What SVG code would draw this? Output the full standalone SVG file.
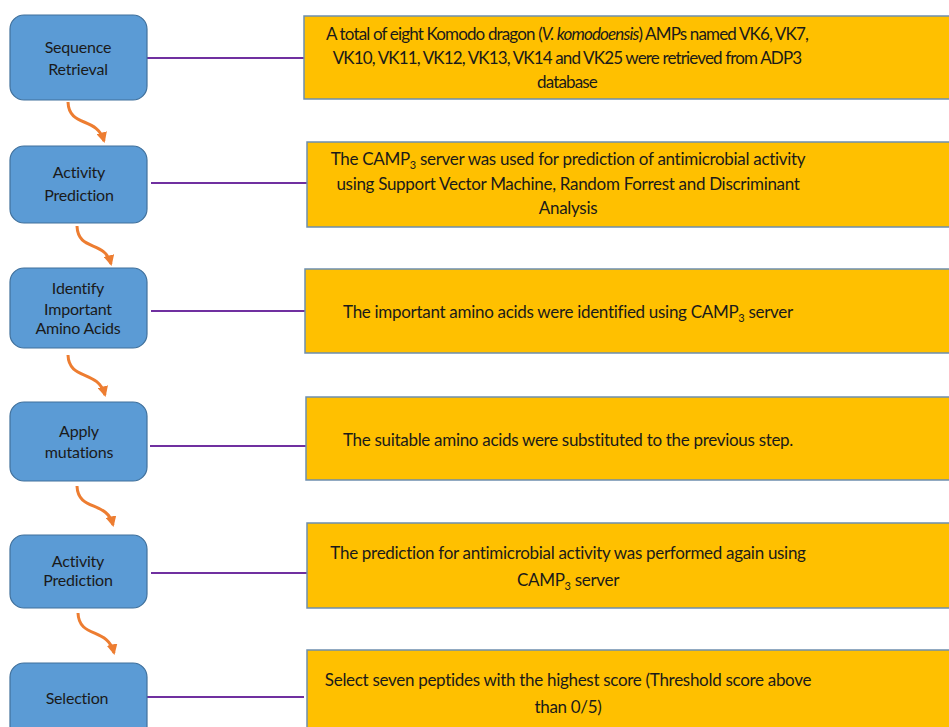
<svg xmlns="http://www.w3.org/2000/svg" width="949" height="727" viewBox="0 0 949 727">
<style>
.node rect{fill:#5B9BD5;stroke:#41719C;stroke-width:1.2}
.box rect{fill:#FFC000;stroke:#6D8EAE;stroke-width:1.5}
.nt{font-family:Lato,"Open Sans",sans-serif;font-size:16px;letter-spacing:-0.2px;fill:#1a1a1a;text-anchor:middle}
.bt{font-family:Lato,"Open Sans",sans-serif;font-size:17px;letter-spacing:-0.3px;fill:#1a1a1a;text-anchor:middle}
.tight{letter-spacing:-0.85px}
.link{stroke:#7030A0;stroke-width:2;fill:none}
.flow{stroke:#ED7D31;stroke-width:3;fill:none;marker-end:url(#ah)}
.sub{font-size:11px}
</style>
<defs>
<marker id="ah" viewBox="0 0 10 10" refX="8" refY="5" markerWidth="3.6" markerHeight="3.6" orient="auto" markerUnits="strokeWidth">
<path d="M0,0 L10,5 L0,10 Z" fill="#ED7D31"/>
</marker>
</defs>
<rect width="949" height="727" fill="#fff"/>
<g id="connectors">
<line class="link" x1="147" y1="58" x2="304" y2="58"/>
<line class="link" x1="151" y1="183" x2="307" y2="183"/>
<line class="link" x1="151" y1="311" x2="306" y2="311"/>
<line class="link" x1="150" y1="446" x2="306" y2="446"/>
<line class="link" x1="151" y1="573" x2="307" y2="573"/>
<line class="link" x1="147" y1="697" x2="304" y2="697"/>
<path class="flow" d="M68,102 C69,128 97,116 104,141"/>
<path class="flow" d="M77,226 C78,252 105,240 111,264"/>
<path class="flow" d="M68,355 C69,381 98,369 105,395"/>
<path class="flow" d="M77,486 C78,512 107,500 113,525"/>
<path class="flow" d="M78,613 C79,639 108,627 114,653"/>
</g>
<g id="n1" class="node"><rect x="10" y="15" width="137" height="85" rx="14"/>
<text class="nt" x="78" y="53">Sequence</text><text class="nt" x="78" y="75">Retrieval</text></g>
<g id="n2" class="node"><rect x="10" y="146" width="137" height="77" rx="14"/>
<text class="nt" x="79" y="178">Activity</text><text class="nt" x="79" y="201">Prediction</text></g>
<g id="n3" class="node"><rect x="10" y="268" width="137" height="80" rx="14"/>
<text class="nt" x="78" y="294">Identify</text><text class="nt" x="78" y="315">Important</text><text class="nt" x="78" y="334">Amino Acids</text></g>
<g id="n4" class="node"><rect x="10" y="402" width="137" height="79" rx="14"/>
<text class="nt" x="79" y="437">Apply</text><text class="nt" x="79" y="458">mutations</text></g>
<g id="n5" class="node"><rect x="10" y="535" width="137" height="73" rx="14"/>
<text class="nt" x="78" y="567">Activity</text><text class="nt" x="78" y="586">Prediction</text></g>
<g id="n6" class="node"><rect x="10" y="663" width="137" height="80" rx="14"/>
<text class="nt" x="77" y="704">Selection</text></g>
<g id="b1" class="box"><rect x="304" y="16" width="660" height="83"/>
<text class="bt tight" x="567" y="40">A total of eight Komodo dragon (<tspan font-style="italic">V. komodoensis</tspan>) AMPs named VK6, VK7,</text>
<text class="bt tight" x="567" y="64">VK10, VK11, VK12, VK13, VK14 and VK25 were retrieved from ADP3</text>
<text class="bt tight" x="567" y="88">database</text></g>
<g id="b2" class="box"><rect x="307" y="142" width="660" height="85"/>
<text class="bt" x="568" y="165">The CAMP<tspan class="sub" dy="4">3</tspan><tspan dy="-4"> server was used for prediction of antimicrobial activity</tspan></text>
<text class="bt" x="568" y="190">using Support Vector Machine, Random Forrest and Discriminant</text>
<text class="bt" x="568" y="214">Analysis</text></g>
<g id="b3" class="box"><rect x="305" y="269" width="660" height="84"/>
<text class="bt" x="568" y="318">The important  amino acids were identified using CAMP<tspan class="sub" dy="4">3</tspan><tspan dy="-4"> server</tspan></text></g>
<g id="b4" class="box"><rect x="306" y="397" width="660" height="83"/>
<text class="bt" x="568" y="446">The suitable amino acids were substituted to the previous step.</text></g>
<g id="b5" class="box"><rect x="307" y="523" width="660" height="85"/>
<text class="bt" x="568" y="559">The prediction  for antimicrobial activity was performed  again using</text>
<text class="bt" x="568" y="586">CAMP<tspan class="sub" dy="4">3</tspan><tspan dy="-4"> server</tspan></text></g>
<g id="b6" class="box"><rect x="307" y="650" width="660" height="90"/>
<text class="bt" x="568" y="686">Select seven peptides with the highest score (Threshold score above</text>
<text class="bt" x="568" y="713">than 0/5)</text></g>
</svg>
